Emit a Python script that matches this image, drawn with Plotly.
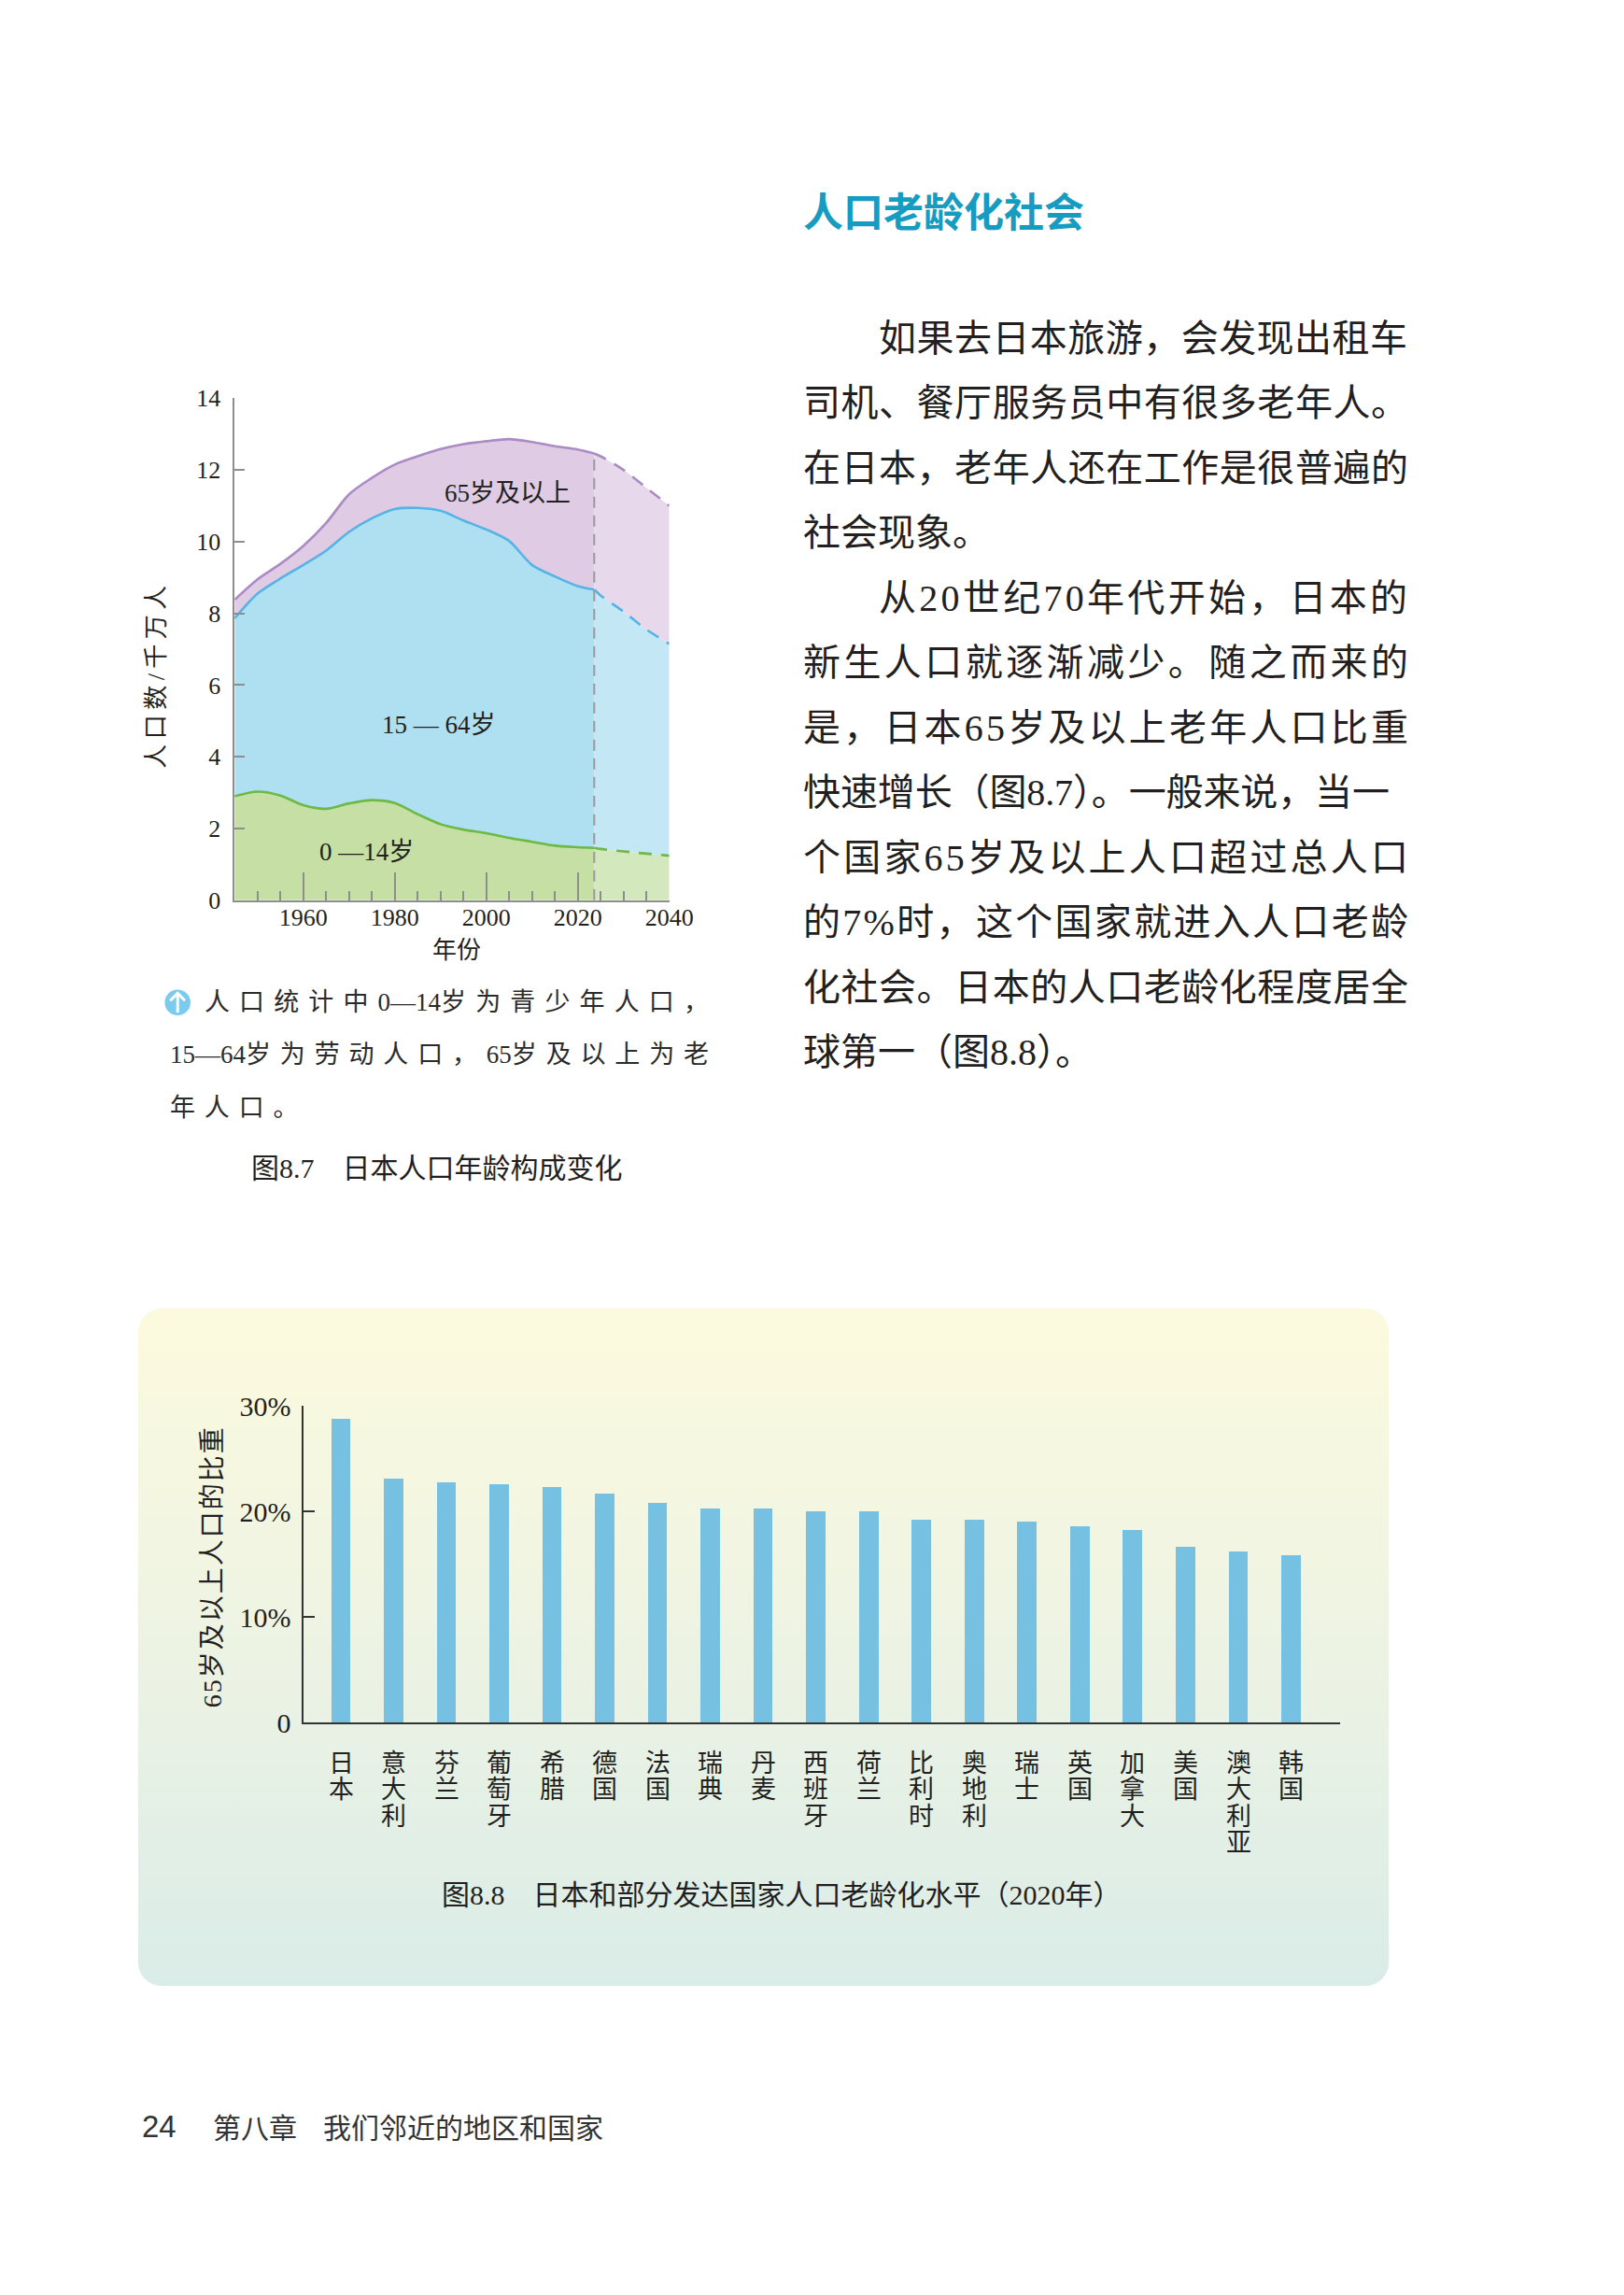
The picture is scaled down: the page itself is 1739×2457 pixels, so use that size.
import base64
import plotly.graph_objects as go

# ---------------- data ----------------
# Fig 8.7  Japan population by age group (unit: 10 million people)
hist_years = [1945, 1950, 1955, 1960, 1965, 1970, 1975, 1980, 1985, 1990,
              1995, 2000, 2005, 2010, 2015, 2020, 2023.6]
hist_0_14 = [2.90, 3.03, 2.92, 2.65, 2.55, 2.70, 2.79, 2.71, 2.40, 2.12,
             1.97, 1.87, 1.74, 1.63, 1.52, 1.48, 1.46]
hist_15_64 = [4.96, 5.52, 6.05, 6.70, 7.20, 7.57, 7.86, 8.20, 8.54, 8.74,
              8.62, 8.47, 8.28, 7.72, 7.51, 7.28, 7.20]
hist_65 = [0.52, 0.40, 0.41, 0.53, 0.77, 1.05, 1.13, 1.24, 1.44, 1.72,
           2.13, 2.46, 2.84, 3.43, 3.63, 3.81, 3.80]

proj_years = [2023.6, 2025, 2030, 2035, 2040]
proj_0_14 = [1.46, 1.43, 1.36, 1.30, 1.24]
proj_15_64 = [7.20, 7.07, 6.69, 6.25, 5.91]
proj_65 = [3.80, 3.88, 3.95, 3.95, 3.85]

pop_yticks = [0, 2, 4, 6, 8, 10, 12, 14]
year_ticks = [1960, 1980, 2000, 2020, 2040]

# Fig 8.8  share of population aged 65+ (2020)
countries = ["日本", "意大利", "芬兰", "葡萄牙", "希腊", "德国", "法国", "瑞典", "丹麦",
             "西班牙", "荷兰", "比利时", "奥地利", "瑞士", "英国", "加拿大", "美国",
             "澳大利亚", "韩国"]
aged_share = [28.8, 23.1, 22.7, 22.6, 22.3, 21.7, 20.8, 20.3, 20.3,
              20.0, 20.0, 19.2, 19.2, 19.0, 18.6, 18.2, 16.6, 16.2, 15.8]
share_ticks = [0, 10, 20, 30]
share_ticktext = ["0", "10%", "20%", "30%"]

# ---------------- page geometry ----------------
W, H = 1739, 2457
OFF = 8                      # default body margin of the html page
FW, FH = W - 2 * OFF, H - 2 * OFF


def px(x):
    return (x - OFF) / FW


def py(y):
    return 1 - (y - OFF) / FH


SERIF = '"Liberation Serif", "Noto Sans CJK SC", serif'
CJK = '"Noto Sans CJK SC", sans-serif'
INK = "#231f20"
GRAY = "#8e8e8e"
LATIN = set("0123456789.%— ")


def char_w(c):
    if c.isdigit():
        return 0.5
    return {".": 0.25, "%": 0.833, " ": 0.25, "/": 0.278, "—": 1.0}.get(c, 1.0)


def runs(text):
    out, run, kind = [], "", None
    for c in text:
        k = c in LATIN
        if run and k != kind:
            out.append((run, kind))
            run = ""
        run += c
        kind = k
    if run:
        out.append((run, kind))
    return out


def body_html(text, size, target=None):
    """uniform letter spacing (justified line); latin runs forced to the serif face"""
    ls = 0.0
    if target is not None:
        nat = sum(char_w(c) for c in text) * size
        ls = (target - nat) / max(len(text) - 1, 1)
    parts = []
    for run, is_latin in runs(text):
        style = f"letter-spacing:{ls:.2f}px"
        if is_latin:
            style += ";font-family:Liberation Serif"
        parts.append(f'<span style="{style}">{run}</span>')
    return "".join(parts)


def spaced_all(text, size, target):
    nat = sum(char_w(c) for c in text) * size
    ls = (target - nat) / max(len(text) - 1, 1)
    return f'<span style="letter-spacing:{ls:.2f}px">{text}</span>'


def spaced_cjk(text, size, target=None, ls=None):
    if ls is None:
        nat = sum(char_w(c) for c in text) * size
        n = sum(1 for c in text if c not in LATIN)
        if text[-1] not in LATIN:
            n -= 1
        ls = (target - nat) / max(n, 1)
    parts = []
    for run, is_latin in runs(text):
        if is_latin:
            parts.append(f'<span style="font-family:Liberation Serif">{run}</span>')
        else:
            parts.append(f'<span style="letter-spacing:{ls:.2f}px">{run}</span>')
    return "".join(parts), ls


fig = go.Figure()

# ---------------- Fig 8.7 stacked areas ----------------
hist_style = [("0—14岁", hist_0_14, "#c5dfa5", "#6cb945"),
              ("15—64岁", hist_15_64, "#aee0f1", "#55b3e6"),
              ("65岁及以上", hist_65, "#dfcbe3", "#aa8bc5")]
proj_style = [("0—14岁", proj_0_14, "#d4e8be", "#6cb945"),
              ("15—64岁", proj_15_64, "#c3e7f5", "#55b3e6"),
              ("65岁及以上", proj_65, "#e8d8ec", "#aa8bc5")]

for name, vals, fill, line in hist_style:
    fig.add_trace(go.Scatter(x=hist_years, y=vals, name=name, stackgroup="hist",
                             mode="lines", fillcolor=fill,
                             line=dict(color=line, width=2.6, shape="spline", smoothing=0.8),
                             xaxis="x", yaxis="y", showlegend=False))
for name, vals, fill, line in proj_style:
    fig.add_trace(go.Scatter(x=proj_years, y=vals, name=name, stackgroup="proj",
                             mode="lines", fillcolor=fill,
                             line=dict(color=line, width=2.6, shape="spline", smoothing=0.8,
                                       dash="14px,10px"),
                             xaxis="x", yaxis="y", showlegend=False))

proj_start = proj_years[0]
proj_top = proj_0_14[0] + proj_15_64[0] + proj_65[0]

# ---------------- Fig 8.8 bars ----------------
fig.add_trace(go.Bar(x=countries, y=aged_share, width=0.366,
                     marker=dict(color="#76c0e2", line=dict(width=0)),
                     xaxis="x2", yaxis="y2", showlegend=False))

# ---------------- annotations ----------------
ann = []


def text(x, y, s, size, family=SERIF, color=INK, xanchor="left", yanchor="middle",
         angle=0, bold=False):
    if bold:
        s = f"<b>{s}</b>"
    ann.append(dict(x=px(x), y=py(y), xref="paper", yref="paper", text=s,
                    showarrow=False, xanchor=xanchor, yanchor=yanchor,
                    textangle=angle, font=dict(family=family, size=size, color=color)))


# section title
text(871, 210, "人口老龄化社会", 43, family=CJK, color="#169cc1", bold=True)

# body paragraph
BODY = 40
LEFT, RIGHT, INDENT = 871, 1519, 953
para = [("如果去日本旅游，会发现出租车", True, True),
        ("司机、餐厅服务员中有很多老年人。", False, True),
        ("在日本，老年人还在工作是很普遍的", False, True),
        ("社会现象。", False, False),
        ("从20世纪70年代开始，日本的", True, True),
        ("新生人口就逐渐减少。随之而来的", False, True),
        ("是，日本65岁及以上老年人口比重", False, True),
        ("快速增长（图8.7）。一般来说，当一", False, True),
        ("个国家65岁及以上人口超过总人口", False, True),
        ("的7%时，这个国家就进入人口老龄", False, True),
        ("化社会。日本的人口老龄化程度居全", False, True),
        ("球第一（图8.8）。", False, False)]
for i, (s, indent, just) in enumerate(para):
    x0 = INDENT if indent else LEFT
    html = body_html(s, BODY, RIGHT - x0 if just else None)
    text(x0, 350 + 70.5 * i, html, BODY)

# Fig 8.7 axis titles and region labels
text(170, 715, spaced_all("人口数/千万人", 26, 196), 26, angle=-90, xanchor="center")
text(496, 1015, "年份", 26, xanchor="center")
for s, xv, yv in [("65岁及以上", 2004.7, 11.35), ("15 — 64岁", 1989.6, 4.88),
                  ("0 —14岁", 1973.9, 1.34)]:
    ann.append(dict(x=xv, y=yv, xref="x", yref="y", text=s, showarrow=False,
                    font=dict(family=SERIF, size=27, color=INK)))

# note under Fig 8.7
CAP = 27
CAPC = "#2b2b2b"
l2, ls2 = spaced_cjk("15—64岁为劳动人口，65岁及以上为老", CAP, target=577)
l1, _ = spaced_cjk("人口统计中0—14岁为青少年人口，", CAP, target=540)
l3, _ = spaced_cjk("年人口。", CAP, ls=ls2)
text(220, 1071, l1, CAP, family=SERIF, color=CAPC)
text(183, 1128, l2, CAP, family=SERIF, color=CAPC)
text(183, 1185, l3, CAP, family=SERIF, color=CAPC)
text(271, 1251, "图8.7　日本人口年龄构成变化", 30)

# Fig 8.8 texts
text(231, 1684, spaced_all("65岁及以上人口的比重", 28, 300), 28, angle=-90, xanchor="center")
for name in countries:
    for j, ch in enumerate(name):
        ann.append(dict(x=name, xref="x2", y=py(1897 + 29 * j), yref="paper", text=ch,
                        showarrow=False, xanchor="center", yanchor="middle",
                        font=dict(family=SERIF, size=27, color=INK)))
text(478, 2040, "图8.8　日本和部分发达国家人口老龄化水平（2020年）", 30)

# footer
text(152, 2291, "24", 33, family='"Liberation Sans", Arial, sans-serif', color="#333333")
text(229, 2291, "第八章", 30, family=CJK, color="#333333")
text(349, 2291, "我们邻近的地区和国家", 30, family=CJK, color="#333333")

# ---------------- shapes ----------------
shapes = [
    dict(type="line", xref="x", yref="y", x0=proj_start, x1=proj_start, y0=0, y1=proj_top,
         line=dict(color="#9a9a9a", width=2, dash="12px,8px")),
    # note icon
    dict(type="circle", xref="paper", yref="paper", x0=px(179), x1=px(207),
         y0=py(1085), y1=py(1057), fillcolor="#7ccbef", line=dict(width=0)),
    dict(type="path", xref="paper", yref="paper",
         path=f"M {px(193)},{py(1082)} L {px(193)},{py(1061)} M {px(185)},{py(1069)} "
              f"L {px(193)},{py(1061)} L {px(201)},{py(1069)}",
         line=dict(color="white", width=3)),
]

# rounded gradient panel behind Fig 8.8
PL, PT, PR, PB = 150, 1403, 1510, 2139
pw, ph = PR - PL, PB - PT
svg = (f'<svg xmlns="http://www.w3.org/2000/svg" width="{pw}" height="{ph}" '
       f'viewBox="0 0 {pw} {ph}"><defs><linearGradient id="g" x1="0" y1="0" x2="0" y2="1">'
       '<stop offset="0" stop-color="#fcfade"/><stop offset="0.5" stop-color="#edf3e3"/>'
       '<stop offset="1" stop-color="#daece8"/></linearGradient></defs>'
       f'<rect x="0" y="0" width="{pw}" height="{ph}" rx="26" ry="26" fill="url(#g)"/></svg>')
panel_src = "data:image/svg+xml;base64," + base64.b64encode(svg.encode()).decode()

fig.update_layout(
    width=FW, height=FH, margin=dict(l=0, r=0, t=0, b=0),
    paper_bgcolor="white", plot_bgcolor="rgba(0,0,0,0)",
    showlegend=False, bargap=0,
    images=[dict(source=panel_src, xref="paper", yref="paper", x=px(PL), y=py(PT),
                 sizex=pw / FW, sizey=ph / FH, xanchor="left", yanchor="top",
                 sizing="stretch", layer="below")],
    annotations=ann, shapes=shapes,
    xaxis=dict(domain=[px(255), px(727.5)], range=[1945, 2040], anchor="y",
               tickmode="array", tickvals=year_ticks, ticks="inside", ticklen=30,
               tickwidth=1.5, tickcolor=GRAY, showline=True, linecolor=GRAY, linewidth=1.5,
               minor=dict(tick0=1945, dtick=5, ticks="inside", ticklen=10,
                          tickwidth=1.5, tickcolor=GRAY),
               showgrid=False, zeroline=False, ticklabelstandoff=-6,
               tickfont=dict(family=SERIF, size=26, color=INK)),
    yaxis=dict(domain=[py(960), py(415)], range=[0, 14], anchor="x",
               tickmode="array", tickvals=pop_yticks, ticks="inside", ticklen=11,
               tickwidth=1.5, tickcolor=GRAY, showline=True, linecolor=GRAY, linewidth=1.5,
               showgrid=False, zeroline=False, ticklabelstandoff=8,
               tickfont=dict(family=SERIF, size=26, color=INK)),
    xaxis2=dict(domain=[px(330), px(1457)], range=[-0.706, 18.93], anchor="y2",
                type="category", showticklabels=False, ticks="",
                showline=True, linecolor="#333333", linewidth=2,
                showgrid=False, zeroline=False),
    yaxis2=dict(domain=[py(1853), py(1509.3)], range=[0, 30], anchor="x2",
                tickmode="array", tickvals=share_ticks, ticktext=share_ticktext,
                ticks="inside", ticklen=12, tickwidth=1.5, tickcolor="#333333",
                showline=True, linecolor="#333333", linewidth=1.5,
                showgrid=False, zeroline=False, ticklabelstandoff=6,
                tickfont=dict(family=SERIF, size=30, color=INK)),
)

fig.write_html("out.html")
